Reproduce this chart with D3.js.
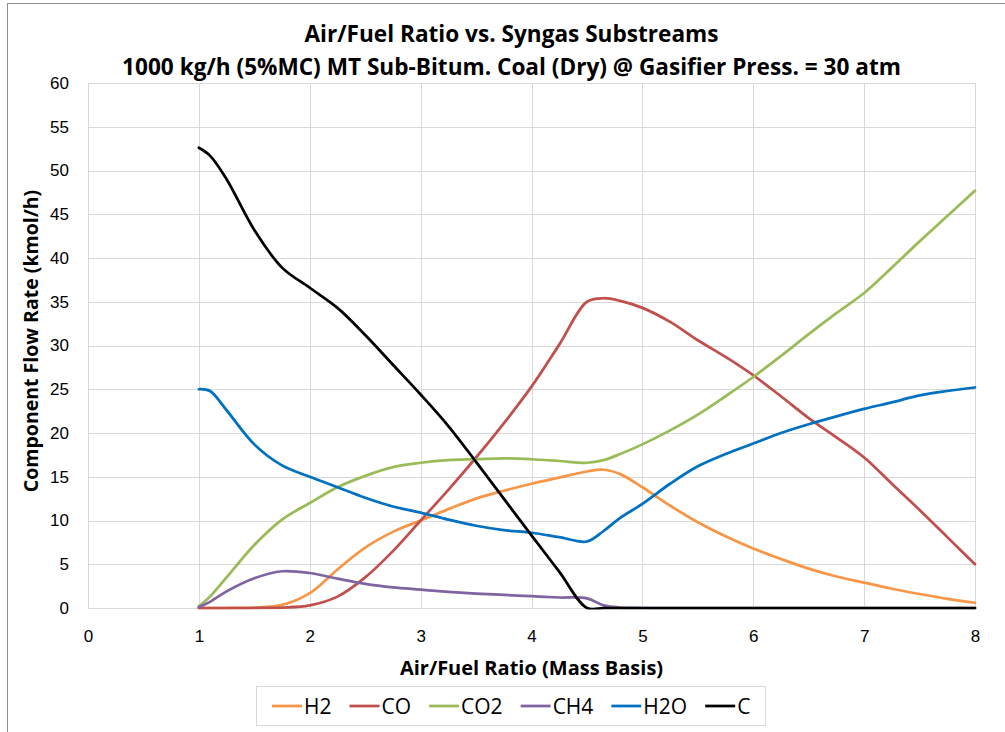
<!DOCTYPE html>
<html>
<head>
<meta charset="utf-8">
<script src="https://cdn.jsdelivr.net/npm/d3@7"></script>
<style>
  html, body { margin: 0; padding: 0; background: #fff; }
  svg { display: block; font-family: "Open Sans", Lato, sans-serif; }
</style>
</head>
<body>
<svg id="chart" width="1005" height="732"></svg>
<script>
// air/fuel ratio (mass basis)
var ratios = [1, 1.1, 1.25, 1.5, 1.75, 2, 2.25, 2.5, 2.75, 3, 3.25, 3.5, 3.75, 4, 4.25, 4.5,
  4.65, 4.8, 5, 5.25, 5.5, 5.75, 6, 6.25, 6.5, 6.75, 7, 7.25, 7.5, 7.75, 8];

// component flow rates, kmol/h
var h2 = [0, 0, 0, 0.05, 0.35, 1.7, 4.4, 6.9, 8.7, 10.0, 11.3, 12.5, 13.4, 14.2, 14.9, 15.6,
  15.8, 15.3, 13.8, 11.7, 9.8, 8.2, 6.8, 5.6, 4.5, 3.6, 2.9, 2.2, 1.6, 1.05, 0.6];
var co = [0, 0, 0, 0, 0.05, 0.3, 1.3, 3.5, 6.5, 10.0, 13.5, 17.2, 21.1, 25.3, 30.1, 35.0,
  35.4, 35.1, 34.3, 32.7, 30.6, 28.7, 26.6, 24.2, 21.7, 19.5, 17.2, 14.2, 11.2, 8.1, 5.0];
var co2 = [0.2, 1.3, 3.5, 7.2, 10.1, 12.0, 13.8, 15.1, 16.1, 16.6, 16.9, 17.0, 17.1, 17.0, 16.8, 16.6,
  16.9, 17.6, 18.7, 20.3, 22.1, 24.2, 26.4, 28.8, 31.3, 33.7, 36.0, 38.9, 41.9, 44.8, 47.7];
var ch4 = [0.1, 0.7, 1.9, 3.4, 4.2, 4.0, 3.35, 2.75, 2.35, 2.1, 1.85, 1.65, 1.5, 1.35, 1.2, 1.1,
  0.3, 0.05, 0, 0, 0, 0, 0, 0, 0, 0, 0, 0, 0, 0, 0];
var h2o = [25.0, 24.8, 22.6, 18.7, 16.3, 15.0, 13.8, 12.6, 11.6, 10.9, 10.1, 9.4, 8.9, 8.6, 8.1, 7.6,
  8.8, 10.3, 11.9, 14.2, 16.2, 17.6, 18.8, 20.0, 21.0, 21.9, 22.75, 23.5, 24.3, 24.8, 25.2];
var carbon = [52.6, 51.7, 49.0, 43.2, 38.9, 36.6, 34.3, 31.2, 27.8, 24.4, 20.8, 16.7, 12.5, 8.3, 4.15, 0,
  0, 0, 0, 0, 0, 0, 0, 0, 0, 0, 0, 0, 0, 0, 0];

var seriesNames = ['H2', 'CO', 'CO2', 'CH4', 'H2O', 'C'];
var seriesValues = [h2, co, co2, ch4, h2o, carbon];
var seriesColors = ['#F79646', '#C0504D', '#9BBB59', '#8064A2', '#0070C0', '#000000'];

var xTicks = [0, 1, 2, 3, 4, 5, 6, 7, 8];
var yTicks = [0, 5, 10, 15, 20, 25, 30, 35, 40, 45, 50, 55, 60];

var titleLines = ['Air/Fuel Ratio vs. Syngas Substreams',
  '1000 kg/h (5%MC) MT Sub-Bitum. Coal (Dry) @ Gasifier Press. = 30 atm'];
var xTitle = 'Air/Fuel Ratio (Mass Basis)';
var yTitle = 'Component Flow Rate (kmol/h)';

(function () {
  'use strict';
  var svg = d3.select('#chart');
  var plot = { left: 88, right: 975, top: 83, bottom: 608 };

  var x = d3.scaleLinear().domain([0, 8]).range([plot.left, plot.right]);
  var y = d3.scaleLinear().domain([0, 60]).range([plot.bottom, plot.top]);

  // chart frame
  svg.append('rect')
    .attr('x', 7.5).attr('y', 3.5).attr('width', 1010).attr('height', 740)
    .attr('fill', 'none').attr('stroke', '#8c8c8c').attr('stroke-width', 1);

  // titles
  svg.selectAll('text.title').data(titleLines).enter().append('text')
    .attr('class', 'title')
    .attr('x', 511.5).attr('y', function (d, i) { return 42 + i * 32.5; })
    .attr('text-anchor', 'middle')
    .attr('font-size', 22.6).attr('font-weight', 'bold').attr('fill', '#000')
    .text(function (d) { return d; });

  // gridlines
  svg.append('g').selectAll('line').data(yTicks).enter().append('line')
    .attr('x1', plot.left).attr('x2', plot.right)
    .attr('y1', function (d) { return Math.round(y(d)) + 0.5; })
    .attr('y2', function (d) { return Math.round(y(d)) + 0.5; })
    .attr('stroke', '#d9d9d9').attr('stroke-width', 1);
  svg.append('g').selectAll('line').data(xTicks).enter().append('line')
    .attr('y1', plot.top).attr('y2', plot.bottom)
    .attr('x1', function (d) { return Math.round(x(d)) + 0.5; })
    .attr('x2', function (d) { return Math.round(x(d)) + 0.5; })
    .attr('stroke', '#d9d9d9').attr('stroke-width', 1);

  // axes
  var xAxis = d3.axisBottom(x).tickValues(xTicks).tickSize(0).tickPadding(22)
    .tickFormat(d3.format('d'));
  var xg = svg.append('g').attr('transform', 'translate(0,' + plot.bottom + ')').call(xAxis);
  xg.select('.domain').attr('stroke', '#d9d9d9');
  xg.selectAll('text').attr('font-size', 17).attr('fill', '#000').attr('font-family', null);

  var yAxis = d3.axisLeft(y).tickValues(yTicks).tickSize(0).tickPadding(19)
    .tickFormat(d3.format('d'));
  var yg = svg.append('g').attr('transform', 'translate(' + plot.left + ',0)').call(yAxis);
  yg.select('.domain').attr('stroke', '#d9d9d9');
  yg.selectAll('text').attr('font-size', 17).attr('fill', '#000').attr('font-family', null);

  // axis titles
  svg.append('text')
    .attr('x', 531.5).attr('y', 675)
    .attr('text-anchor', 'middle')
    .attr('font-size', 20).attr('font-weight', 'bold')
    .text(xTitle);
  svg.append('text')
    .attr('transform', 'translate(38,341) rotate(-90)')
    .attr('text-anchor', 'middle')
    .attr('font-size', 19.5).attr('font-weight', 'bold')
    .text(yTitle);

  // series, clipped to the plot area like the spreadsheet does
  svg.append('clipPath').attr('id', 'plotClip')
    .append('rect')
    .attr('x', plot.left - 2).attr('y', plot.top - 2)
    .attr('width', plot.right - plot.left + 4).attr('height', plot.bottom - plot.top + 3.5);

  var line = d3.line()
    .x(function (d, i) { return x(ratios[i]); })
    .y(function (d) { return y(d); })
    .curve(d3.curveCatmullRom.alpha(0.5));

  svg.append('g').attr('clip-path', 'url(#plotClip)')
    .selectAll('path').data(seriesValues).enter().append('path')
    .attr('d', line)
    .attr('fill', 'none')
    .attr('stroke', function (d, i) { return seriesColors[i]; })
    .attr('stroke-width', 2.75)
    .attr('stroke-linejoin', 'round')
    .attr('stroke-linecap', 'round');

  // legend
  var legend = svg.append('g');
  legend.append('rect')
    .attr('x', 256.5).attr('y', 686.5).attr('width', 509).attr('height', 39)
    .attr('fill', '#fff').attr('stroke', '#d9d9d9');
  var cx = 272;
  seriesNames.forEach(function (name, i) {
    legend.append('line')
      .attr('x1', cx).attr('x2', cx + 30)
      .attr('y1', 706).attr('y2', 706)
      .attr('stroke', seriesColors[i]).attr('stroke-width', 2.75);
    var t = legend.append('text')
      .attr('x', cx + 32).attr('y', 714)
      .attr('font-size', 21).attr('fill', '#000')
      .text(name);
    cx += 32 + t.node().getComputedTextLength() + 18;
  });
})();
</script>
</body>
</html>
